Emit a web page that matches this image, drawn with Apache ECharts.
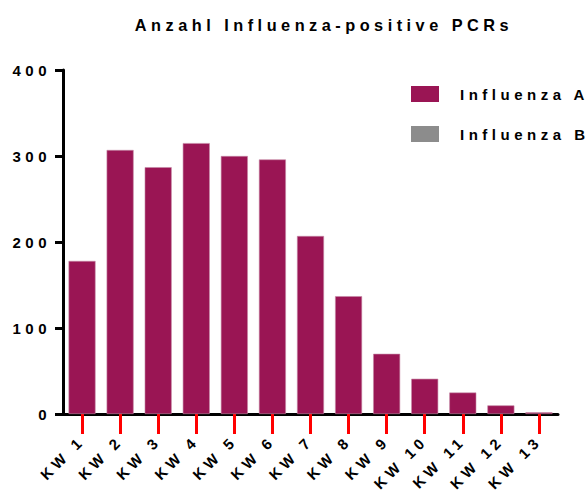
<!DOCTYPE html>
<html>
<head>
<meta charset="utf-8">
<script src="https://cdn.jsdelivr.net/npm/echarts@6/dist/echarts.min.js"></script>
<style>
  html, body { margin: 0; padding: 0; background: #fff; }
  #chart { width: 587px; height: 493px; }
  /* spaced-out lettering like the original */
  #chart text { letter-spacing: 4.5px; }
</style>
</head>
<body>
<div id="chart"></div>
<script>
const weeks = ['KW 1', 'KW 2', 'KW 3', 'KW 4', 'KW 5', 'KW 6', 'KW 7', 'KW 8', 'KW 9', 'KW 10', 'KW 11', 'KW 12', 'KW 13']
const influenzaA = [178, 307, 287, 315, 300, 296, 207, 137, 70, 41, 25, 10, 2]
const influenzaB = [0, 0, 0, 0, 0, 0, 0, 0, 0, 0, 0, 0, 0]
const yTicks = [0, 100, 200, 300, 400]

const chart = echarts.init(document.getElementById('chart'), null, { renderer: 'svg' })
const font = 'Liberation Sans, Arial, sans-serif'

chart.setOption({
  animation: false,
  title: {
    text: 'Anzahl Influenza-positive PCRs',
    left: 319,
    textAlign: 'center',
    top: 12,
    textStyle: { fontFamily: font, fontSize: 16.3, fontWeight: 'bold', color: '#000' }
  },
  legend: {
    orient: 'vertical',
    left: 406,
    top: 81,
    icon: 'rect',
    itemWidth: 28,
    itemHeight: 16,
    itemGap: 24,
    itemStyle: { borderWidth: 0 },
    textStyle: { fontFamily: font, fontSize: 15, fontWeight: 'bold', color: '#000', padding: [0, 0, 0, 16] },
    data: ['Influenza A', 'Influenza B']
  },
  grid: { left: 63, right: 29, top: 70, bottom: 79, containLabel: false },
  xAxis: {
    type: 'category',
    data: weeks,
    axisLine: { lineStyle: { color: '#000', width: 3 } },
    axisTick: { show: true, alignWithLabel: true, length: 20, lineStyle: { width: 3, color: 'red' } },
    axisLabel: { rotate: 45, margin: 24, interval: 0, fontFamily: font, fontSize: 15, fontWeight: 'bold', color: '#000' }
  },
  yAxis: {
    type: 'value',
    min: yTicks[0],
    max: yTicks[yTicks.length - 1],
    interval: 100,
    splitLine: { show: false },
    axisLine: { show: true, lineStyle: { color: '#000', width: 3 } },
    axisTick: { show: true, length: 8, lineStyle: { width: 3, color: '#000' } },
    axisLabel: { margin: 12, fontFamily: font, fontSize: 15, fontWeight: 'bold', color: '#000' }
  },
  series: [
    {
      name: 'Influenza A',
      type: 'bar',
      stack: 'total',
      data: influenzaA,
      barWidth: 27,
      itemStyle: { color: '#9a1554', borderColor: '#c68aa6', borderWidth: 0.6 }
    },
    {
      name: 'Influenza B',
      type: 'bar',
      stack: 'total',
      data: influenzaB,
      barWidth: 27,
      itemStyle: { color: '#8c8c8c' }
    }
  ]
})
</script>
</body>
</html>
